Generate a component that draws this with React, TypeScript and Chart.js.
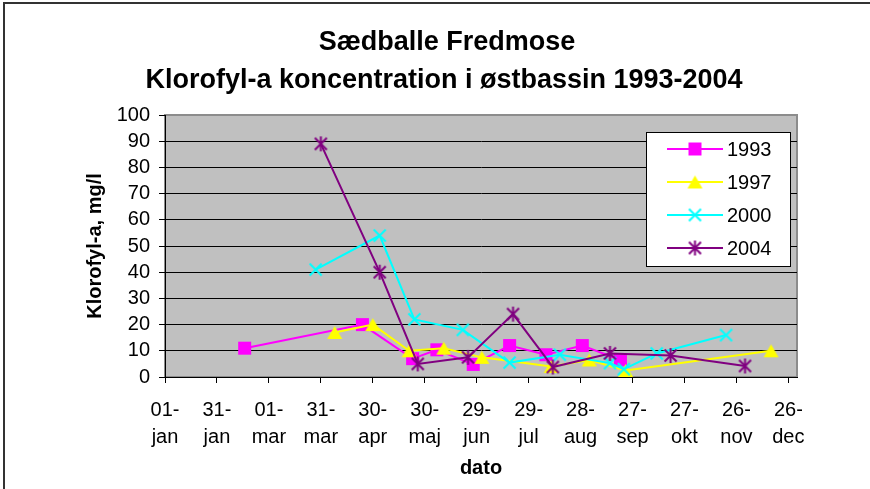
import React, { useEffect, useRef } from 'react';
import { Chart, registerables } from 'chart.js';

Chart.register(...registerables);

// ---- data (x = days after 01-jan) ----
const tickDays = [0, 30, 60, 90, 120, 150, 180, 210, 240, 270, 300, 330, 360];
const tickLabels = ['01-jan', '31-jan', '01-mar', '31-mar', '30-apr', '30-maj', '29-jun', '29-jul', '28-aug', '27-sep', '27-okt', '26-nov', '26-dec'];

const days1993 = [46, 114, 143, 157, 178, 199, 220, 241, 263];
const vals1993 = [11, 20, 7, 10.4, 4.8, 12, 8.5, 12, 6.5];

const days1997 = [98, 120, 141, 161, 183, 223, 245, 266, 350];
const vals1997 = [17, 20, 10, 11, 7.5, 4, 6.5, 2.5, 10];

const days2000 = [87, 124, 144, 172, 199, 228, 257, 265, 284, 324];
const vals2000 = [41, 54, 22, 18, 5.5, 8.5, 5.3, 3, 9, 16];

const days2004 = [90, 124, 146, 175, 201, 224, 257, 292, 335];
const vals2004 = [89, 40, 5, 7.5, 24, 3.8, 9, 8.2, 4.2];

const seriesNames = ['1993', '1997', '2000', '2004'];
const seriesColors = ['#FF00FF', '#FFFF00', '#00FFFF', '#800080'];
const seriesMarkers = ['square', 'triangle', 'x', 'star'];

const titleLines = ['Sædballe Fredmose', 'Klorofyl-a koncentration i østbassin 1993-2004'];

const FONT = "'Liberation Sans', Arial, sans-serif";

function makeMarker(kind: string, color: string): HTMLCanvasElement {
  const c = document.createElement('canvas');
  const s = 17;
  c.width = s;
  c.height = s;
  const g = c.getContext('2d')!;
  const m = s / 2;
  g.fillStyle = color;
  g.strokeStyle = color;
  g.lineWidth = 2;
  g.lineCap = 'butt';
  if (kind === 'square') {
    g.fillRect(m - 6.5, m - 6.5, 13, 13);
  } else if (kind === 'triangle') {
    g.beginPath();
    g.moveTo(m, m - 6.5);
    g.lineTo(m + 7.5, m + 6.5);
    g.lineTo(m - 7.5, m + 6.5);
    g.closePath();
    g.fill();
  } else if (kind === 'x') {
    g.beginPath();
    g.moveTo(m - 6, m - 6);
    g.lineTo(m + 6, m + 6);
    g.moveTo(m + 6, m - 6);
    g.lineTo(m - 6, m + 6);
    g.stroke();
  } else {
    g.beginPath();
    g.moveTo(m - 6, m - 6);
    g.lineTo(m + 6, m + 6);
    g.moveTo(m + 6, m - 6);
    g.lineTo(m - 6, m + 6);
    g.moveTo(m, m - 7.5);
    g.lineTo(m, m + 7.5);
    g.stroke();
  }
  return c;
}

export default function App() {
  const ref = useRef<HTMLCanvasElement | null>(null);

  useEffect(() => {
    document.body.style.margin = '0';
    const canvas = ref.current;
    if (!canvas) return;

    const markers = seriesMarkers.map((k, i) => makeMarker(k, seriesColors[i]));
    const allDays = [days1993, days1997, days2000, days2004];
    const allVals = [vals1993, vals1997, vals2000, vals2004];

    const datasets = seriesNames.map((name, i) => ({
      label: name,
      data: allDays[i].map((d, j) => ({ x: d, y: allVals[i][j] })),
      borderColor: seriesColors[i],
      backgroundColor: seriesColors[i],
      borderWidth: 2,
      pointStyle: markers[i] as any,
      pointRadius: 7,
      tension: 0,
      order: 4 - i,
    }));

    const decor = {
      id: 'decor',
      beforeDraw(chart: any) {
        const { ctx, chartArea: a } = chart;
        ctx.save();
        ctx.fillStyle = '#C0C0C0';
        ctx.fillRect(a.left, a.top, a.right - a.left, a.bottom - a.top);
        ctx.strokeStyle = '#8C8C8C';
        ctx.lineWidth = 2;
        ctx.strokeRect(a.left, a.top, a.right - a.left, a.bottom - a.top);
        ctx.strokeStyle = '#333';
        ctx.lineWidth = 2;
        ctx.beginPath();
        ctx.moveTo(4, 489);
        ctx.lineTo(4, 3);
        ctx.lineTo(870, 3);
        ctx.stroke();
        // title
        ctx.fillStyle = '#000';
        ctx.font = `bold 27px ${FONT}`;
        ctx.textAlign = 'center';
        ctx.textBaseline = 'alphabetic';
        ctx.fillText(titleLines[0], 447, 49.5);
        ctx.fillText(titleLines[1], 444, 88);
        ctx.restore();
      },
      afterDatasetsDraw(chart: any) {
        const { ctx } = chart;
        const bx = 646, by = 132, bw = 144, bh = 134;
        ctx.save();
        ctx.fillStyle = '#FFFFFF';
        ctx.fillRect(bx, by, bw, bh);
        ctx.strokeStyle = '#000';
        ctx.lineWidth = 1;
        ctx.strokeRect(bx + 0.5, by + 0.5, bw, bh);
        ctx.font = `20px ${FONT}`;
        ctx.textBaseline = 'middle';
        ctx.textAlign = 'left';
        seriesNames.forEach((name, i) => {
          const y = 149 + i * 33;
          ctx.strokeStyle = seriesColors[i];
          ctx.lineWidth = 2;
          ctx.beginPath();
          ctx.moveTo(667, y);
          ctx.lineTo(723, y);
          ctx.stroke();
          const mk = markers[i];
          ctx.drawImage(mk, 695 - mk.width / 2, y - mk.height / 2);
          ctx.fillStyle = '#000';
          ctx.fillText(name, 727, y + 1);
        });
        ctx.restore();
      },
    };

    const chart = new Chart(canvas, {
      type: 'line',
      data: { datasets: datasets as any },
      options: {
        animation: false,
        responsive: false,
        devicePixelRatio: 1,
        layout: { padding: { left: 0, right: 73, top: 115, bottom: 0 } },
        plugins: {
          legend: { display: false },
          tooltip: { enabled: false },
          title: { display: false },
        },
        scales: {
          x: {
            type: 'linear',
            min: 0,
            max: 365,
            afterBuildTicks: (scale: any) => {
              scale.ticks = tickDays.map((v) => ({ value: v }));
            },
            afterFit: (scale: any) => {
              scale.height = 112;
            },
            ticks: {
              autoSkip: false,
              maxRotation: 0,
              minRotation: 0,
              color: '#000',
              padding: 14,
              font: { family: FONT, size: 20, lineHeight: 1.35 },
              callback: (v: any) => {
                const idx = tickDays.indexOf(Number(v));
                if (idx < 0) return '';
                const parts = tickLabels[idx].split('-');
                return [parts[0] + '-', parts[1]];
              },
            },
            grid: { drawOnChartArea: false, drawTicks: true, tickLength: 6, color: '#000', lineWidth: 1 },
            border: { display: true, color: '#000', width: 1 },
            title: {
              display: true,
              text: 'dato',
              color: '#000',
              font: { family: FONT, size: 20, weight: 'bold' },
              padding: { top: 0, bottom: 9 },
            },
          },
          y: {
            min: 0,
            max: 100,
            afterFit: (scale: any) => {
              scale.width = 165;
            },
            ticks: {
              stepSize: 10,
              autoSkip: false,
              color: '#000',
              padding: 9,
              font: { family: FONT, size: 20 },
            },
            grid: {
              color: (c: any) => (c.tick && c.tick.value === 100 ? 'rgba(0,0,0,0)' : '#000'),
              tickColor: '#000',
              tickLength: 6,
              lineWidth: 1,
            },
            border: { display: true, color: '#000', width: 1 },
            title: {
              display: true,
              text: 'Klorofyl-a, mg/l',
              color: '#000',
              font: { family: FONT, size: 20, weight: 'bold' },
              padding: { top: 83, bottom: 0 },
            },
          },
        },
      },
      plugins: [decor],
    });

    return () => chart.destroy();
  }, []);

  return (
    <div style={{ width: 870, height: 489, position: 'relative' }}>
      <canvas ref={ref} width={870} height={489} style={{ display: 'block' }} />
    </div>
  );
}
